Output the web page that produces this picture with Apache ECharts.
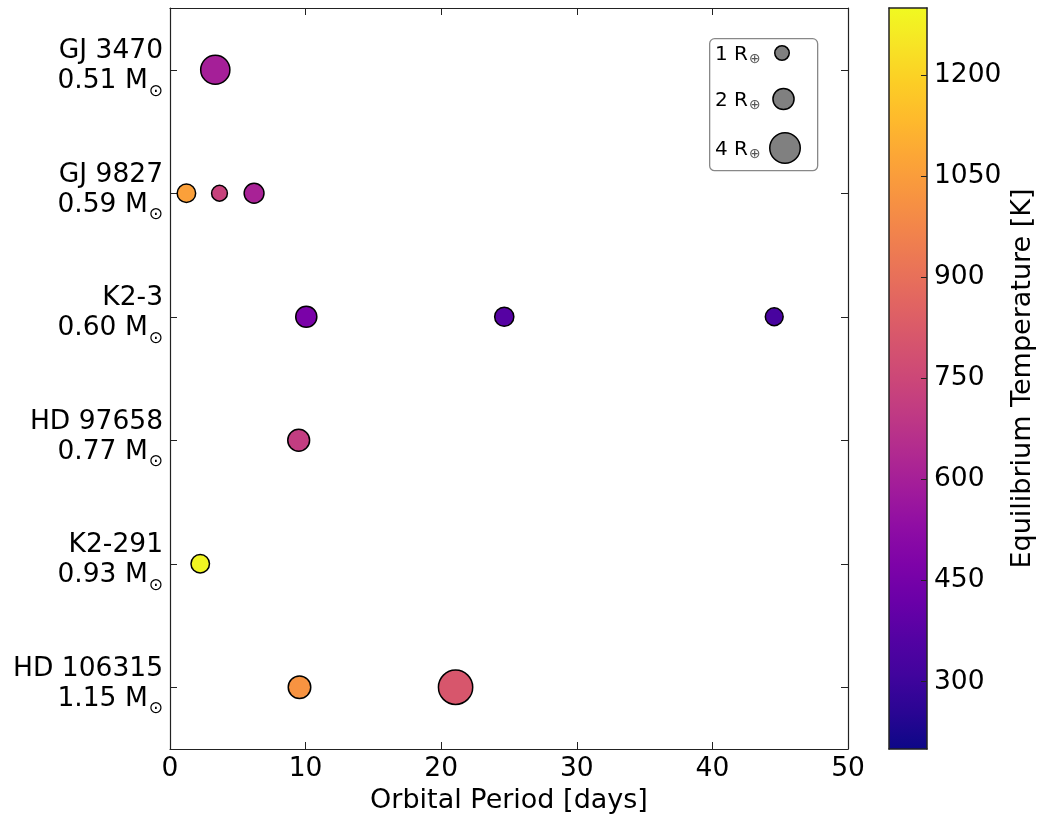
<!DOCTYPE html>
<html>
<head>
<meta charset="utf-8">
<script src="https://cdn.jsdelivr.net/npm/echarts@6/dist/echarts.min.js"></script>
<style>html,body{margin:0;padding:0;background:#fff;}#chart{width:1043px;height:821px;}</style>
</head>
<body>
<div id="chart"></div>
<script>
// ---- data ----
const systems = ['GJ 3470', 'GJ 9827', 'K2-3', 'HD 97658', 'K2-291', 'HD 106315'];
const stellarMass = ['0.51', '0.59', '0.60', '0.77', '0.93', '1.15'];
const planetSystem = ['GJ 3470', 'GJ 9827', 'GJ 9827', 'GJ 9827', 'K2-3', 'K2-3', 'K2-3', 'HD 97658', 'K2-291', 'HD 106315', 'HD 106315'];
const planetPeriod = [3.34, 1.21, 3.65, 6.20, 10.05, 24.65, 44.56, 9.49, 2.23, 9.55, 21.06];
const planetRadius = [3.68, 1.56, 1.17, 1.78, 2.0, 1.67, 1.46, 2.13, 1.56, 2.25, 5.0];
const planetTeq = [600, 1060, 730, 610, 465, 370, 330, 710, 1290, 1020, 810];
const xTicks = [0, 10, 20, 30, 40, 50];
const colorbarTicks = [300, 450, 600, 750, 900, 1050, 1200];
const teqRange = [200, 1300];
const legendRadii = [1, 2, 4];

const plasma = ['#0d0887','#2a0593','#41049d','#5402a3','#6a00a8','#7e03a8','#8f0da4','#a11b9b','#b12a90','#bf3984','#cc4778','#d6556d','#e16462','#ea7457','#f2844b','#f89540','#fca636','#feba2c','#fcce25','#f7e425','#f0f921'];

const FONT = 'DejaVu Sans';
const TICK_FS = 26.5;
const NAME_FS = 27;
const BORDER = 1.5;
function markerSize(r) { return 16 * Math.sqrt(r) - BORDER; }

const points = planetPeriod.map((p, i) => [p, systems.indexOf(planetSystem[i]), planetTeq[i], planetRadius[i]]);

const chart = echarts.init(document.getElementById('chart'), null, {renderer: 'canvas'});

const axisLineStyle = {color: '#222', width: 1.2};
const tickStyle = {color: '#222', width: 1};

// legend graphic (box + sample markers)
const legendGraphic = [{
  type: 'rect', left: 709, top: 38, z: 50,
  shape: {width: 108, height: 132, r: 5},
  style: {fill: '#fff', stroke: '#888', lineWidth: 1.3}
}];
const legendY = [53, 99, 148];
legendRadii.forEach((r, i) => {
  legendGraphic.push({
    type: 'text', x: 715, y: legendY[i], z: 51,
    style: {
      text: '{a|' + r + ' R}{s|⊕}',
      verticalAlign: 'middle', align: 'left',
      rich: {
        a: {fontFamily: FONT, fontSize: 20, fill: '#000', lineHeight: 24, verticalAlign: 'bottom'},
        s: {fontFamily: FONT, fontSize: 14, fill: '#555', lineHeight: 24, verticalAlign: 'top', padding: [11, 0, 0, 1]}
      }
    }
  });
  legendGraphic.push({
    type: 'circle', z: 51,
    shape: {cx: 782 + i * 1.5, cy: legendY[i], r: markerSize(r) / 2},
    style: {fill: '#808080', stroke: '#000', lineWidth: BORDER}
  });
});

// colorbar gradient
const stops = plasma.map((c, i) => ({offset: i / (plasma.length - 1), color: c}));
const colorbarGraphic = {
  type: 'rect', left: 889, top: 8, z: 0,
  shape: {width: 38, height: 741},
  style: {fill: new echarts.graphic.LinearGradient(0, 1, 0, 0, stops), stroke: null}
};

const option = {
  backgroundColor: '#fff',
  animation: false,
  textStyle: {fontFamily: FONT},
  grid: [
    {left: 170, top: 8, width: 678, height: 741, containLabel: false},
    {left: 889, top: 8, width: 38, height: 741, containLabel: false}
  ],
  xAxis: [
    {
      type: 'value', gridIndex: 0, min: 0, max: 50, interval: 10, position: 'bottom',
      name: 'Orbital Period [days]', nameLocation: 'middle', nameGap: 37,
      nameTextStyle: {fontFamily: FONT, fontSize: NAME_FS, color: '#000'},
      axisLine: {show: true, onZero: false, lineStyle: axisLineStyle},
      axisTick: {show: true, inside: true, length: 7, lineStyle: tickStyle},
      axisLabel: {fontFamily: FONT, fontSize: TICK_FS, color: '#000', margin: 7, customValues: xTicks},
      splitLine: {show: false}
    },
    {
      type: 'value', gridIndex: 0, min: 0, max: 50, interval: 10, position: 'top',
      axisLine: {show: true, onZero: false, lineStyle: axisLineStyle},
      axisTick: {show: true, inside: true, length: 7, lineStyle: tickStyle},
      axisLabel: {show: false}, splitLine: {show: false}
    },
    {
      type: 'value', gridIndex: 1, min: 0, max: 1, position: 'bottom',
      axisLine: {show: true, onZero: false, lineStyle: {color: '#222', width: 1.5}},
      axisTick: {show: false}, axisLabel: {show: false}, splitLine: {show: false}
    },
    {
      type: 'value', gridIndex: 1, min: 0, max: 1, position: 'top',
      axisLine: {show: true, onZero: false, lineStyle: {color: '#222', width: 1.5}},
      axisTick: {show: false}, axisLabel: {show: false}, splitLine: {show: false}
    }
  ],
  yAxis: [
    {
      type: 'category', gridIndex: 0, data: systems, inverse: true, boundaryGap: true, position: 'left',
      axisLine: {show: true, onZero: false, lineStyle: axisLineStyle},
      axisTick: {show: true, inside: true, length: 7, alignWithLabel: true, lineStyle: tickStyle},
      axisLabel: {
        margin: 7, align: 'right', padding: [0, 0, 10, 0],
        formatter: function (v, idx) { return '{a|' + v + '}\n{a|' + stellarMass[idx] + ' M}{s|⊙}'; },
        rich: {
          a: {fontFamily: FONT, fontSize: TICK_FS, color: '#000', lineHeight: 30, verticalAlign: 'bottom'},
          s: {fontFamily: FONT, fontSize: 17, color: '#000', lineHeight: 30, verticalAlign: 'top', padding: [18, 0, 0, 1]}
        }
      },
      splitLine: {show: false}
    },
    {
      type: 'category', gridIndex: 0, data: systems, inverse: true, boundaryGap: true, position: 'right',
      axisLine: {show: true, onZero: false, lineStyle: axisLineStyle},
      axisTick: {show: true, inside: true, length: 7, alignWithLabel: true, lineStyle: tickStyle},
      axisLabel: {show: false}, splitLine: {show: false}
    },
    {
      type: 'value', gridIndex: 1, min: teqRange[0], max: teqRange[1], position: 'right',
      name: 'Equilibrium Temperature [K]', nameLocation: 'middle', nameGap: 82, nameRotate: 90,
      nameTextStyle: {fontFamily: FONT, fontSize: NAME_FS, color: '#000'},
      axisLine: {show: true, onZero: false, lineStyle: {color: '#222', width: 1.5}},
      axisTick: {show: true, inside: true, length: 6, customValues: colorbarTicks, lineStyle: tickStyle},
      axisLabel: {
        fontFamily: FONT, fontSize: TICK_FS, color: '#000', margin: 7, customValues: colorbarTicks,
        formatter: function (v) { return String(v); }
      },
      splitLine: {show: false}
    },
    {
      type: 'value', gridIndex: 1, min: teqRange[0], max: teqRange[1], position: 'left',
      axisLine: {show: true, onZero: false, lineStyle: {color: '#222', width: 1.5}},
      axisTick: {show: false}, axisLabel: {show: false}, splitLine: {show: false}
    }
  ],
  visualMap: {
    type: 'continuous', show: false, min: teqRange[0], max: teqRange[1], dimension: 2,
    seriesIndex: 0, inRange: {color: plasma}
  },
  graphic: [colorbarGraphic].concat(legendGraphic),
  series: [{
    type: 'scatter', xAxisIndex: 0, yAxisIndex: 0,
    data: points,
    symbol: 'circle',
    symbolSize: function (val) { return markerSize(val[3]); },
    itemStyle: {borderColor: '#000', borderWidth: BORDER, opacity: 1},
    z: 5
  }]
};
chart.setOption(option);
</script>
</body>
</html>
